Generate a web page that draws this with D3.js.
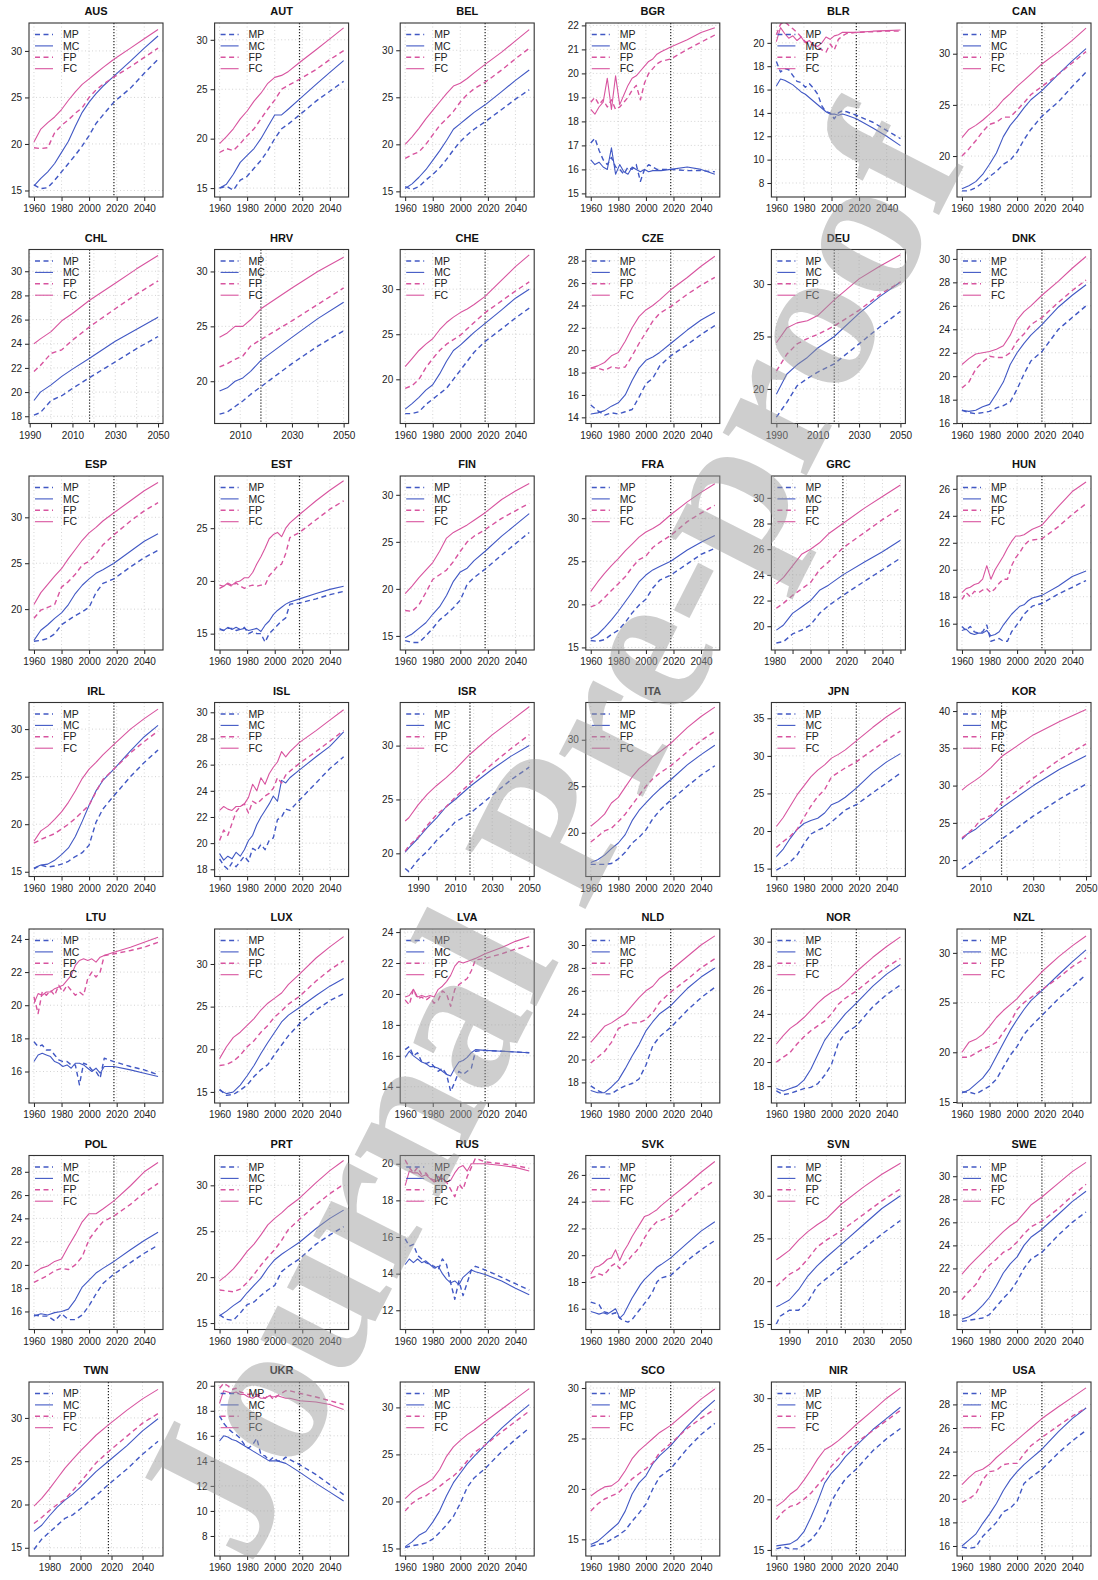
<!DOCTYPE html>
<head>
  <meta charset="utf-8" />
  <script src="https://d3js.org/d3.v7.min.js"></script>
  <style>
    body { margin: 0; background: #fff; }
    svg text { font-family: "Liberation Sans", Arial, sans-serif; }
    .grid { stroke: #cfcfcf; stroke-width: 0.9; stroke-dasharray: 1,2.5; }
  </style>
</head>
<body>
<script>
// panels, in reading order (6 per row)
var COUNTRIES = ["AUS","AUT","BEL","BGR","BLR","CAN",
                 "CHL","HRV","CHE","CZE","DEU","DNK",
                 "ESP","EST","FIN","FRA","GRC","HUN",
                 "IRL","ISL","ISR","ITA","JPN","KOR",
                 "LTU","LUX","LVA","NLD","NOR","NZL",
                 "POL","PRT","RUS","SVK","SVN","SWE",
                 "TWN","UKR","ENW","SCO","NIR","USA"];

// sampling years (values below are read at these years)
var YR5 = [1960,1965,1970,1975,1980,1985,1990,1995,2000,2005,2010,2018,2030,2040,2050];
var YR3 = [1960,1963,1966,1969,1972,1975,1978,1981,1984,1987,1990,1993,1996,1999,2002,2005,2008,2011,2018,2030,2040,2050];
var YR_CHL = [1992,1995,2000,2005,2010,2018,2030,2040,2050];
var YR_HRV = [2002,2005,2008,2011,2014,2018,2030,2040,2050];
var YR_DEU = [1990,1995,2000,2005,2010,2018,2030,2040,2050];
var YR_GRC = [1981,1985,1990,1995,2000,2005,2010,2018,2030,2040,2050];
var YR_83 = [1983,1985,1990,1995,2000,2005,2010,2018,2030,2040,2050];
var YR_KOR = [2003,2005,2008,2010,2014,2018,2030,2040,2050];
var YR_TWN = [1970,1975,1980,1985,1990,1995,2000,2005,2010,2018,2030,2040,2050];

var PANEL_YEARS = [YR5,YR5,YR5,YR3,YR3,YR5,
                   YR_CHL,YR_HRV,YR5,YR5,YR_DEU,YR5,
                   YR5,YR3,YR5,YR5,YR_GRC,YR3,
                   YR5,YR3,YR_83,YR5,YR5,YR_KOR,
                   YR3,YR5,YR3,YR5,YR5,YR5,
                   YR5,YR5,YR3,YR3,YR_83,YR5,
                   YR_TWN,YR3,YR5,YR5,YR5,YR5];

var PANEL_XAXIS = ["std","std","std","std","std","std",
                   "c90","c10","std","std","c90","std",
                   "std","std","std","std","grc","std",
                   "std","std","c90","std","std","c10",
                   "std","std","std","std","std","std",
                   "std","std","std","std","c90","std",
                   "twn","std","std","std","std","std"];

var X_TICKS_STD = [1960,1980,2000,2020,2040];
var X_TICKS_90 = [1990,2000,2010,2020,2030,2040,2050];
var X_LABELS_90 = [1990,2010,2030,2050];
var X_TICKS_10 = [2010,2020,2030,2040,2050];
var X_LABELS_10 = [2010,2030,2050];
var X_TICKS_GRC = [1980,1990,2000,2010,2020,2030,2040,2050];
var X_LABELS_GRC = [1980,2000,2020,2040];
var X_TICKS_TWN = [1980,2000,2020,2040];

// y-axis range and tick step per panel
var Y_LIM = [[14.3,33.0],[14.1,31.7],[14.4,32.9],[14.85,22.1],[6.8,21.7],[16.0,33.0],
             [17.4,31.8],[16.15,32.0],[15.1,34.4],[13.45,29.0],[16.7,33.3],[15.97,30.8],
             [15.55,34.5],[13.45,29.95],[13.5,32.0],[14.7,34.9],[18.15,31.7],[14.05,26.95],
             [14.5,32.8],[17.45,30.75],[17.85,34.0],[15.3,34.0],[13.95,37.1],[17.8,41.15],
             [14.1,24.6],[13.7,34.1],[12.95,24.2],[16.2,31.4],[16.6,31.05],[14.9,32.4],
             [14.45,29.4],[14.3,33.25],[10.95,20.45],[14.45,27.45],[14.35,34.7],[16.7,31.8],
             [14.05,34.15],[6.4,20.3],[14.2,32.7],[13.35,30.6],[14.4,31.6],[15.15,29.9]];
var Y_STEP = [5,5,5,1,2,5,
              2,5,5,2,5,2,
              5,5,5,5,2,2,
              5,2,5,5,5,5,
              2,5,2,2,2,5,
              2,5,2,2,5,2,
              5,2,5,5,5,2];

var MP = [
  [15.6,15.2,15.3,16.1,17.0,17.9,18.8,19.8,20.9,22.2,23.1,24.5,26.0,27.6,29.1],
  [15.0,15.2,14.8,15.8,16.2,17.0,17.8,18.8,20.0,21.0,21.5,22.4,23.8,24.8,25.8],
  [15.5,15.2,15.5,16.2,16.8,17.5,18.4,19.4,20.3,21.0,21.6,22.4,23.7,24.8,25.8],
  [17.1,17.3,16.8,16.4,16.2,16.5,16.1,16.0,15.8,16.1,16.0,16.2,15.5,16.0,16.2,16.1,16.0,16.0,16.0,15.95,15.95,15.9],
  [18.4,17.5,17.8,17.7,17.2,16.7,16.6,16.2,16.5,16.1,15.6,14.6,14.1,14.0,13.5,14.0,14.2,14.1,13.8,13.2,12.5,11.8],
  [16.6,16.6,16.9,17.4,18.0,18.5,19.2,19.6,20.4,21.6,22.6,23.9,25.3,26.8,28.2],
  [18.1,18.3,19.3,19.7,20.3,21.2,22.5,23.6,24.6],
  [17.0,17.2,17.7,18.2,18.8,19.5,21.6,23.2,24.6],
  [16.2,16.2,16.4,17.2,17.8,18.4,19.0,20.0,21.0,22.0,23.0,24.2,25.6,26.8,27.9],
  [15.1,14.6,14.2,14.4,14.3,14.5,14.7,15.8,17.0,17.5,18.6,19.5,20.5,21.4,22.2],
  [17.3,18.7,20.3,21.0,21.6,22.4,24.3,25.9,27.4],
  [17.1,16.9,16.8,16.9,17.0,17.3,17.5,17.8,18.9,20.2,21.3,22.1,24.0,25.0,26.0],
  [16.5,16.6,16.8,17.3,18.3,18.8,19.3,19.7,20.2,21.8,22.8,23.3,24.6,25.6,26.4],
  [15.4,15.3,15.5,15.5,15.3,15.4,15.6,15.0,15.2,15.0,15.0,14.2,15.0,15.4,15.8,16.2,16.5,17.8,17.9,18.3,18.7,19.0],
  [14.5,14.3,14.3,15.0,15.8,16.7,17.3,18.0,18.8,20.5,21.2,22.1,23.6,24.8,26.0],
  [15.8,15.7,15.9,16.5,17.0,17.9,19.0,19.9,20.6,21.9,22.8,23.4,24.7,25.8,26.5],
  [18.7,18.8,19.4,19.7,20.1,21.0,21.6,22.4,23.5,24.4,25.3],
  [15.8,15.5,15.8,15.4,15.3,15.4,15.9,14.7,14.8,14.9,14.7,14.7,15.4,15.8,16.2,16.7,17.0,17.3,17.5,18.2,18.7,19.2],
  [15.3,15.7,15.5,15.6,15.8,16.1,16.6,17.0,17.8,20.2,21.6,23.0,25.0,26.5,27.8],
  [18.8,18.3,18.0,18.5,18.2,18.6,19.0,18.6,19.6,19.4,19.9,19.5,20.2,20.4,21.8,22.0,22.6,22.5,23.3,24.6,25.7,26.6],
  [18.6,18.3,19.4,20.2,21.2,22.0,22.9,23.7,25.4,26.8,28.0],
  [16.6,16.6,16.6,16.7,17.2,17.9,18.9,19.5,20.3,21.5,22.4,23.5,25.0,26.2,27.2],
  [14.8,15.3,15.9,16.8,18.3,19.6,20.1,20.5,21.2,22.0,22.8,23.5,25.1,26.4,27.7],
  [18.8,19.3,20.1,20.6,21.7,22.8,25.9,28.2,30.2],
  [17.8,17.5,17.6,17.3,17.3,17.0,16.7,16.6,16.6,16.4,16.4,15.2,16.5,16.4,16.1,16.0,15.6,16.8,16.6,16.3,16.1,15.8],
  [15.3,14.6,14.7,15.2,15.8,16.8,17.6,18.2,19.4,20.5,21.6,23.0,24.6,25.7,26.5],
  [16.4,16.6,16.0,16.2,15.6,15.5,15.6,15.3,15.0,15.2,14.8,13.7,14.3,15.0,14.8,15.0,15.2,16.3,16.35,16.3,16.25,16.2],
  [17.7,17.3,17.0,17.0,17.4,17.7,17.9,18.3,19.5,21.2,22.0,22.8,24.3,25.4,26.3],
  [17.6,17.3,17.4,17.6,17.8,17.9,18.2,18.9,19.8,21.6,22.4,23.0,24.6,25.6,26.4],
  [16.0,16.0,15.8,16.2,16.6,17.3,18.5,19.7,20.6,21.8,22.6,23.7,25.4,26.6,27.8],
  [15.7,15.6,15.6,15.2,15.8,15.3,15.3,15.7,16.5,17.5,18.4,19.2,20.2,21.0,21.7],
  [15.9,15.4,15.3,16.1,17.0,17.3,18.0,18.6,19.1,20.6,21.2,22.0,23.6,24.6,25.5],
  [15.9,15.5,15.6,15.0,14.8,14.6,14.5,14.4,14.2,14.8,14.5,13.5,12.6,13.6,12.8,13.5,14.2,14.4,14.2,13.8,13.45,13.1],
  [16.5,16.4,16.3,15.8,15.7,15.6,15.7,15.3,15.1,15.0,15.2,15.6,16.0,16.4,16.8,17.3,18.0,18.3,18.5,19.6,20.4,21.1],
  [15.0,15.9,16.6,16.6,17.6,19.4,20.3,21.7,23.8,25.5,27.1],
  [17.4,17.5,17.6,17.7,18.0,18.7,19.4,20.0,20.9,22.0,22.8,23.4,24.9,26.0,26.9],
  [14.8,16.0,16.8,17.6,18.4,18.8,19.5,20.3,21.0,22.3,24.1,25.8,27.3],
  [17.6,17.0,16.6,16.3,16.1,15.8,15.3,15.0,15.3,15.8,14.5,14.4,14.0,14.3,14.0,14.0,14.3,14.1,13.7,12.9,12.1,11.3],
  [15.1,15.3,15.4,15.6,16.0,16.7,17.5,18.4,19.8,21.5,22.5,23.5,25.3,26.6,27.8],
  [14.3,14.5,14.6,15.0,15.4,15.9,16.8,17.6,18.5,20.0,21.2,22.0,24.0,25.4,26.5],
  [15.1,15.3,15.1,15.1,15.5,16.0,16.8,18.0,19.8,21.0,22.0,23.0,24.8,26.0,27.0],
  [15.9,15.8,15.9,16.8,17.4,18.0,18.9,19.2,19.8,21.3,21.8,22.5,23.9,24.9,25.8]
];

var MC = [
  [15.5,16.3,17.0,17.9,19.1,20.3,21.9,23.4,24.5,25.4,26.2,27.3,28.9,30.3,31.6],
  [15.0,15.4,16.4,17.6,18.3,19.0,20.0,21.2,22.4,22.4,23.0,24.0,25.5,26.7,27.9],
  [15.3,15.8,16.5,17.3,18.3,19.3,20.4,21.6,22.2,22.8,23.4,24.2,25.6,26.8,27.9],
  [16.4,16.2,16.3,16.1,16.0,16.9,15.8,16.2,15.9,15.8,16.1,16.0,15.9,16.0,15.9,15.95,15.95,15.95,16.0,16.1,16.0,15.8],
  [16.3,16.9,16.8,16.6,16.4,16.1,15.8,15.6,15.3,15.0,14.7,14.4,14.1,13.9,13.9,13.8,13.9,13.8,13.5,12.7,12.0,11.2],
  [16.8,17.1,17.5,18.2,19.2,20.3,21.9,23.0,23.8,24.7,25.5,26.4,28.0,29.3,30.5],
  [19.3,20.0,20.6,21.3,21.9,22.8,24.2,25.2,26.2],
  [19.1,19.4,20.0,20.3,20.9,21.9,24.0,25.7,27.2],
  [16.7,17.3,18.0,18.8,19.4,20.6,22.0,23.2,23.8,24.5,25.2,26.2,27.7,29.0,30.0],
  [14.3,14.4,14.6,15.0,15.3,16.0,17.3,18.4,19.1,19.4,19.8,20.6,21.8,22.7,23.4],
  [19.5,21.4,22.3,23.0,23.9,25.0,27.2,28.8,30.2],
  [17.1,17.0,17.1,17.4,17.6,18.5,19.5,21.0,22.0,22.8,23.5,24.4,25.9,26.9,27.8],
  [16.6,17.7,18.3,19.0,19.6,20.5,21.7,22.6,23.3,23.9,24.3,25.0,26.3,27.4,28.2],
  [15.5,15.3,15.6,15.4,15.6,15.4,15.5,15.3,15.4,15.5,15.2,15.8,16.2,16.8,17.2,17.5,17.8,18.0,18.3,18.8,19.2,19.5],
  [14.8,15.2,15.8,16.4,17.3,18.1,19.3,20.8,21.8,22.2,23.0,24.0,25.6,26.8,28.0],
  [16.0,16.5,17.3,18.2,19.2,20.3,21.4,22.6,23.4,24.0,24.4,25.0,26.3,27.2,28.0],
  [19.7,20.1,21.0,21.5,22.0,22.8,23.2,24.0,25.0,25.8,26.7],
  [15.5,15.6,15.3,15.2,15.3,15.3,15.5,15.1,15.2,15.4,15.9,16.3,16.7,17.0,17.3,17.4,17.7,17.9,18.1,18.8,19.5,19.9],
  [15.4,15.7,15.8,16.2,16.8,17.5,18.7,20.3,22.0,23.5,24.6,25.8,27.7,29.2,30.4],
  [19.2,18.7,19.0,18.8,19.3,19.0,19.5,20.2,20.6,21.4,22.0,22.5,23.0,23.6,23.2,24.8,24.6,25.0,25.6,26.6,27.4,28.5],
  [20.1,20.5,21.4,22.4,23.3,24.3,25.0,26.2,27.8,29.0,30.0],
  [16.8,17.1,17.6,18.3,18.9,19.8,21.3,22.4,23.2,24.0,24.7,25.7,27.3,28.4,29.4],
  [16.6,17.6,19.0,20.2,21.0,21.4,21.7,22.4,23.5,23.9,24.5,25.7,27.8,29.2,30.3],
  [22.8,23.5,24.1,24.7,25.8,27.0,30.0,32.2,34.0],
  [16.6,17.0,17.1,17.0,16.9,16.6,16.5,16.3,16.4,16.2,16.5,16.5,16.4,16.2,16.0,16.2,15.9,16.3,16.3,16.1,15.9,15.7],
  [15.2,14.8,15.0,15.8,16.9,18.1,19.5,20.8,22.0,23.2,24.0,24.9,26.3,27.4,28.3],
  [15.9,16.3,16.0,15.8,15.6,15.5,15.3,15.3,15.2,15.0,14.8,14.7,15.2,15.6,15.7,15.9,16.2,16.4,16.35,16.3,16.25,16.2],
  [17.3,17.1,17.1,17.6,18.2,19.2,20.3,21.3,22.5,23.3,24.0,24.7,26.2,27.2,28.0],
  [17.8,17.6,17.8,18.0,18.5,19.4,20.6,21.8,22.6,23.3,24.0,24.9,26.3,27.3,28.1],
  [15.9,16.2,16.8,17.4,18.3,19.6,20.9,22.2,23.3,24.3,25.2,26.2,27.8,29.1,30.3],
  [15.6,15.8,15.7,15.9,16.0,16.2,17.0,18.1,18.7,19.3,19.7,20.3,21.3,22.1,22.8],
  [15.8,16.3,16.9,17.4,18.3,19.1,19.9,21.0,21.9,22.5,23.0,23.8,25.3,26.4,27.3],
  [14.5,14.8,14.6,14.8,14.6,14.7,14.5,14.3,14.4,14.0,13.7,13.5,13.6,13.4,13.8,14.0,14.2,14.1,13.95,13.6,13.2,12.85],
  [15.8,15.7,15.6,15.7,15.6,15.8,16.0,15.3,15.6,16.2,16.8,17.3,17.8,18.2,18.5,18.8,19.1,19.3,19.8,20.9,21.8,22.5],
  [17.0,17.2,17.8,19.0,20.6,21.8,22.8,24.3,26.6,28.5,30.0],
  [17.6,17.8,18.2,18.8,19.5,20.5,21.6,22.4,23.0,24.0,24.7,25.4,26.7,27.8,28.7],
  [16.9,17.6,18.7,19.7,20.5,21.2,22.0,22.9,23.8,25.0,26.8,28.5,29.9],
  [15.6,16.0,15.9,15.7,15.6,15.4,15.2,15.0,14.8,14.6,14.4,14.2,14.0,14.0,14.0,13.9,13.8,13.6,13.1,12.2,11.5,10.8],
  [15.2,15.7,16.4,16.8,17.8,19.0,20.6,22.0,23.0,24.0,24.8,26.0,27.8,29.1,30.3],
  [14.5,14.8,15.4,16.0,16.6,17.8,19.5,20.6,21.3,22.5,23.3,24.3,26.2,27.6,28.8],
  [15.4,15.5,15.6,16.0,16.8,18.2,19.8,21.6,22.6,23.3,24.2,25.3,26.9,28.0,29.1],
  [16.0,16.5,17.0,17.9,18.7,19.6,20.7,21.6,22.3,22.9,23.4,24.2,25.7,26.8,27.7]
];

var FP = [
  [19.6,19.5,19.6,21.2,22.0,22.6,23.3,23.9,25.0,25.8,26.4,27.2,28.3,29.3,30.3],
  [18.6,19.0,18.8,19.5,20.3,21.0,22.0,23.0,23.9,25.0,25.4,26.0,27.0,28.0,28.9],
  [18.5,18.9,19.2,20.0,21.0,22.0,22.7,23.5,24.5,25.3,25.9,26.6,27.9,29.1,30.2],
  [18.8,19.0,18.7,18.9,18.6,18.9,18.5,18.6,18.8,19.0,19.3,19.5,18.9,19.6,20.0,20.2,20.4,20.5,20.6,21.0,21.3,21.6],
  [20.7,21.6,21.8,21.5,21.2,20.9,20.5,20.1,19.9,19.8,19.6,19.4,19.2,19.9,19.4,20.3,20.6,20.8,20.9,20.95,21.0,21.0],
  [20.0,20.7,21.5,22.4,23.1,23.3,23.8,23.8,24.5,25.2,26.0,26.8,28.0,29.1,30.2],
  [21.7,22.2,23.2,23.5,24.3,25.4,26.9,28.1,29.2],
  [21.3,21.6,22.0,22.3,23.2,23.8,25.5,27.0,28.5],
  [19.0,19.3,20.0,21.3,22.3,23.2,23.9,24.4,24.9,25.6,26.3,27.4,28.7,29.8,30.8],
  [18.4,18.4,18.2,18.5,18.4,18.5,19.5,20.6,21.6,22.6,23.3,23.9,25.0,25.8,26.5],
  [21.7,23.3,24.3,24.8,25.2,26.0,27.5,29.0,30.2],
  [19.0,19.5,20.6,21.2,21.7,21.6,21.6,22.0,23.0,23.6,24.4,25.0,26.3,27.3,28.2],
  [19.0,19.9,20.2,20.5,22.4,23.0,23.8,24.8,25.2,26.0,27.0,28.1,29.6,30.7,31.6],
  [19.3,19.5,19.7,19.5,19.8,19.5,19.3,19.5,19.6,19.5,19.6,19.6,20.5,20.9,21.4,21.6,22.6,24.1,24.6,25.8,26.8,27.6],
  [17.7,17.6,18.3,19.6,21.0,21.5,22.0,22.9,24.0,25.0,25.6,26.3,27.5,28.3,29.1],
  [19.7,20.0,20.8,21.6,22.4,23.2,24.3,25.2,25.6,26.6,27.2,28.0,29.6,30.6,31.5],
  [21.4,21.8,22.4,22.9,23.4,24.4,25.0,26.1,27.3,28.3,29.2],
  [17.8,18.3,18.0,18.4,18.3,18.5,18.6,18.3,18.6,19.0,19.3,19.3,20.3,20.9,21.3,21.8,22.1,22.2,22.3,23.2,24.1,24.9],
  [18.0,18.4,18.7,19.0,19.5,20.0,20.6,21.3,22.0,23.4,24.7,25.8,27.5,28.7,29.8],
  [20.2,21.0,20.6,21.5,22.4,22.8,23.0,22.3,23.2,23.0,23.3,23.6,23.8,24.2,25.0,24.6,25.2,25.5,26.1,27.0,27.8,28.6],
  [20.2,20.7,21.5,22.6,23.6,24.3,25.2,26.5,28.3,29.7,31.0],
  [19.0,19.6,20.2,20.5,21.2,22.0,23.0,24.0,25.0,25.8,26.4,27.2,28.7,29.9,30.9],
  [17.8,18.6,19.3,20.2,21.8,23.3,24.6,25.5,27.2,27.8,28.4,29.2,30.8,32.1,33.3],
  [23.0,23.5,24.5,25.4,26.0,27.7,31.0,33.5,35.6],
  [20.5,19.5,20.8,20.6,20.9,20.6,21.2,20.8,21.2,20.9,20.6,20.8,20.6,21.6,22.0,21.7,22.0,23.0,23.1,23.3,23.5,23.8],
  [18.1,18.2,18.6,19.3,20.3,21.0,22.0,22.8,23.8,24.5,25.3,26.2,28.0,29.3,30.4],
  [19.6,19.3,20.3,19.7,19.8,19.6,19.8,19.4,19.6,20.2,20.0,19.2,20.3,20.6,20.8,21.0,21.5,22.2,22.3,22.6,22.9,23.1],
  [19.7,20.2,20.7,21.5,22.7,23.0,23.2,23.2,23.5,24.1,25.0,25.9,27.0,28.0,28.8],
  [20.0,20.4,20.8,21.5,22.1,22.6,23.0,23.4,24.0,24.8,25.3,25.9,27.0,27.9,28.6],
  [19.5,19.5,19.9,20.3,20.6,21.0,22.0,23.0,24.3,25.0,25.5,26.3,27.5,28.6,29.5],
  [18.5,18.8,19.1,19.5,19.7,19.6,20.0,20.7,22.2,23.0,23.7,24.2,25.2,26.2,27.0],
  [18.6,18.5,18.4,18.7,19.4,20.3,21.3,22.2,23.0,24.0,25.2,26.3,27.9,29.1,30.1],
  [20.2,19.8,19.5,19.8,19.4,19.5,19.2,19.1,19.3,19.1,19.0,18.6,18.2,18.9,18.6,19.3,19.8,20.3,20.1,20.0,19.9,19.75],
  [18.3,18.4,18.6,18.5,18.8,19.2,19.4,19.0,19.3,19.6,20.0,20.3,20.7,21.3,21.8,22.2,22.5,22.6,22.9,24.0,24.9,25.6],
  [19.4,19.8,20.8,21.4,22.6,24.0,24.8,25.9,27.8,29.4,30.8],
  [19.3,20.0,20.6,21.6,22.3,22.8,23.4,23.7,24.3,25.0,25.6,26.1,27.2,28.3,29.3],
  [17.8,18.5,19.3,20.0,20.6,21.6,22.6,23.7,24.8,26.1,27.9,29.4,30.5],
  [19.8,20.2,20.0,19.7,19.8,19.5,19.4,19.3,19.4,19.3,19.2,19.0,19.3,18.9,19.2,19.4,19.6,19.6,19.4,19.1,18.8,18.5],
  [19.0,19.8,20.3,20.6,21.1,21.6,22.2,22.7,23.4,24.3,25.2,26.0,27.4,28.5,29.6],
  [17.8,18.5,19.0,19.3,19.6,20.3,21.0,21.5,22.0,22.6,23.6,24.5,26.0,27.0,27.9],
  [18.0,18.8,19.3,19.5,20.0,20.6,21.4,22.2,23.3,24.0,24.8,25.6,26.8,27.8,28.8],
  [19.7,20.0,20.4,21.6,22.3,22.4,22.9,23.0,23.0,23.8,24.5,25.2,26.2,27.0,27.7]
];

var FC = [
  [20.2,21.6,22.3,22.9,23.7,24.7,25.6,26.4,27.0,27.6,28.2,29.1,30.3,31.3,32.3],
  [19.5,20.2,21.0,22.0,22.8,23.8,24.6,25.6,26.2,26.4,26.8,27.7,29.0,30.1,31.2],
  [20.0,20.8,21.7,22.7,23.6,24.5,25.4,26.2,26.5,27.0,27.6,28.5,29.8,31.0,32.2],
  [18.5,18.3,18.6,18.8,19.8,18.5,19.9,18.7,19.1,19.5,19.8,19.9,20.1,20.3,20.5,20.6,20.8,20.9,21.1,21.4,21.7,21.9],
  [20.1,21.3,20.8,20.4,20.6,20.2,20.5,20.0,20.2,19.8,19.7,20.0,20.5,20.3,20.6,20.7,20.9,20.9,20.9,21.0,21.05,21.1],
  [21.8,22.6,23.0,23.5,24.1,24.7,25.5,26.1,26.8,27.4,28.0,29.0,30.2,31.3,32.5],
  [24.0,24.4,25.0,25.9,26.5,27.6,29.0,30.2,31.3],
  [24.0,24.4,25.0,25.0,25.6,26.6,28.5,30.0,31.3],
  [21.4,22.3,23.2,23.9,24.5,25.5,26.3,26.9,27.4,27.8,28.3,29.2,31.0,32.5,33.8],
  [18.4,18.6,18.9,19.5,19.8,20.8,22.0,23.0,23.6,24.0,24.5,25.4,26.5,27.5,28.4],
  [24.4,25.8,26.3,26.5,27.0,28.5,30.5,31.7,32.8],
  [21.0,21.5,21.9,22.0,22.1,22.3,22.6,23.5,24.8,25.5,26.0,26.9,28.1,29.2,30.2],
  [20.5,21.8,22.7,23.6,24.4,25.5,26.5,27.5,28.3,28.9,29.6,30.5,31.8,32.9,33.8],
  [19.6,19.5,19.8,19.6,19.9,20.0,20.3,20.3,20.8,21.6,22.3,23.1,24.0,24.4,24.6,24.2,25.0,25.5,26.3,27.6,28.6,29.5],
  [19.5,20.3,21.2,22.0,22.8,24.0,25.4,26.0,26.4,26.8,27.3,28.1,29.5,30.4,31.2],
  [21.5,22.6,23.6,24.5,25.3,26.2,27.0,27.8,28.4,28.8,29.3,30.4,31.9,33.0,34.0],
  [23.3,23.8,24.7,25.6,26.0,26.5,27.2,28.0,29.2,30.1,31.0],
  [18.3,18.6,18.7,18.9,19.0,19.3,20.3,19.3,20.0,20.5,21.0,21.6,22.1,22.5,22.5,22.6,22.8,23.0,23.3,24.7,25.8,26.5],
  [18.2,19.3,19.8,20.5,21.3,22.3,23.5,24.8,25.8,26.5,27.3,28.4,30.0,31.1,32.1],
  [22.5,22.8,22.6,22.5,22.8,22.8,23.0,23.5,24.5,24.0,25.0,24.5,25.3,25.8,26.2,27.0,26.6,27.0,27.7,28.6,29.4,30.2],
  [23.0,23.3,24.5,25.5,26.3,27.0,27.8,29.2,31.0,32.3,33.6],
  [20.7,21.3,22.0,23.2,23.8,24.9,26.0,26.9,27.5,28.2,28.7,29.6,31.3,32.5,33.5],
  [20.6,21.8,23.3,24.8,26.0,27.2,28.1,28.8,29.7,30.2,30.8,32.0,33.8,35.2,36.4],
  [29.4,30.0,30.7,31.2,32.4,33.9,36.8,38.6,40.2],
  [20.1,20.7,20.6,20.8,20.8,21.0,21.1,21.2,21.5,21.8,22.4,22.7,22.8,22.7,22.8,22.6,22.9,23.0,23.2,23.5,23.8,24.1],
  [18.9,20.3,21.4,22.0,22.8,23.6,24.6,25.4,26.0,26.6,27.6,28.8,30.7,32.0,33.2],
  [19.8,19.9,20.3,19.8,19.9,19.8,19.9,19.8,20.3,20.5,20.8,21.2,21.8,22.1,22.0,22.1,22.2,22.3,22.6,23.0,23.4,23.7],
  [21.5,22.2,22.9,23.2,23.6,24.0,24.7,25.4,26.0,26.4,27.1,27.8,29.0,30.0,30.8],
  [21.5,22.2,22.8,23.2,23.7,24.3,24.9,25.4,25.8,26.1,26.6,27.5,28.7,29.6,30.4],
  [20.0,21.0,21.3,21.8,22.6,23.5,24.2,24.8,25.4,26.2,26.9,28.1,29.6,30.7,31.7],
  [19.3,19.7,19.9,20.3,20.5,21.6,22.6,23.7,24.4,24.4,24.8,25.5,26.8,28.0,28.8],
  [19.6,20.2,20.9,21.8,22.8,23.6,24.6,25.7,26.4,27.0,27.7,28.6,30.3,31.6,32.7],
  [18.8,19.6,19.5,19.5,19.3,19.4,19.2,19.0,19.1,19.2,19.0,19.1,19.5,19.8,19.9,19.6,20.0,20.0,20.0,19.9,19.8,19.6],
  [18.6,19.1,19.2,19.4,19.7,19.8,20.4,19.6,20.3,20.8,21.4,21.9,22.4,22.9,23.0,23.2,23.4,23.7,24.3,25.3,26.2,27.0],
  [22.5,22.8,23.6,24.8,25.8,26.6,27.3,29.0,31.0,32.5,33.8],
  [21.5,22.2,22.8,23.4,24.0,24.6,25.2,25.7,26.1,26.8,27.5,28.2,29.4,30.4,31.2],
  [19.8,20.7,21.8,23.0,24.2,25.2,26.2,27.1,28.0,29.2,30.9,32.2,33.3],
  [18.6,19.6,19.5,19.4,19.5,19.3,19.3,19.1,19.0,19.2,19.0,19.0,19.2,19.1,19.2,19.1,19.0,19.0,18.8,18.7,18.5,18.1],
  [20.3,21.0,21.5,21.9,22.4,23.4,24.8,25.8,26.5,27.1,27.6,28.5,29.8,30.9,32.0],
  [19.3,19.8,20.2,20.3,20.8,21.8,23.0,23.8,24.4,25.0,25.6,26.3,27.7,28.9,29.9],
  [19.3,19.8,20.5,21.0,21.9,22.9,24.0,24.9,25.3,25.8,26.4,27.4,28.8,30.0,31.0],
  [21.2,21.8,22.3,22.5,22.9,23.5,24.0,24.5,25.0,25.5,26.0,26.8,27.8,28.6,29.4]
];

var BLUE = "#4158c4", PINK = "#d8549f";
var SERIES = [
  { key: "MP", values: MP, color: BLUE, dash: "5,3.5", lw: 1.4 },
  { key: "MC", values: MC, color: BLUE, dash: null, lw: 1.1 },
  { key: "FP", values: FP, color: PINK, dash: "5,3.5", lw: 1.4 },
  { key: "FC", values: FC, color: PINK, dash: null, lw: 1.1 }
];

var X_AXES = {
  std: { ticks: X_TICKS_STD, labels: X_TICKS_STD },
  c90: { ticks: X_TICKS_90, labels: X_LABELS_90 },
  c10: { ticks: X_TICKS_10, labels: X_LABELS_10 },
  grc: { ticks: X_TICKS_GRC, labels: X_LABELS_GRC },
  twn: { ticks: X_TICKS_TWN, labels: X_TICKS_TWN }
};

var width = 1098, height = 1580;
var colPitch = 185.6, rowPitch = 226.5, boxW = 134, boxH = 174;

var svg = d3.select("body").append("svg")
  .attr("width", width)
  .attr("height", height)
  .style("background", "#fff");

COUNTRIES.forEach(function (name, i) {
  var col = i % 6, row = Math.floor(i / 6);
  var left = 29 + col * colPitch, top = 23 + row * rowPitch;
  var yrs = PANEL_YEARS[i];
  var first = yrs[0], last = yrs[yrs.length - 1], pad = (last - first) * 0.04;

  var x = d3.scaleLinear().domain([first - pad, last + pad]).range([0, boxW]);
  var y = d3.scaleLinear().domain(Y_LIM[i]).range([boxH, 0]);
  var ax = X_AXES[PANEL_XAXIS[i]];
  var step = Y_STEP[i];
  var yTicks = d3.range(Math.ceil(Y_LIM[i][0] / step - 1e-9) * step, Y_LIM[i][1] + 1e-9, step);

  var g = svg.append("g").attr("transform", "translate(" + left + "," + top + ")");

  // dotted grid like R's grid()
  g.append("g").selectAll("line").data(ax.ticks).join("line")
    .attr("class", "grid")
    .attr("x1", d => x(d)).attr("x2", d => x(d))
    .attr("y1", 0).attr("y2", boxH);
  g.append("g").selectAll("line").data(yTicks).join("line")
    .attr("class", "grid")
    .attr("x1", 0).attr("x2", boxW)
    .attr("y1", d => y(d)).attr("y2", d => y(d));

  // jump-off year
  g.append("line")
    .attr("x1", x(2018)).attr("x2", x(2018))
    .attr("y1", 0).attr("y2", boxH)
    .attr("stroke", "#222").attr("stroke-width", 1.2)
    .attr("stroke-dasharray", "1.3,1.7");

  g.append("clipPath").attr("id", "clip" + i)
    .append("rect").attr("width", boxW).attr("height", boxH);

  var line = d3.line()
    .x((d, k) => x(yrs[k]))
    .y(d => y(d));

  var lines = g.append("g").attr("clip-path", "url(#clip" + i + ")");
  SERIES.forEach(function (s) {
    lines.append("path")
      .attr("d", line(s.values[i]))
      .attr("fill", "none")
      .attr("stroke", s.color)
      .attr("stroke-width", s.lw)
      .attr("stroke-dasharray", s.dash)
      .attr("stroke-linejoin", "round");
  });

  // legend (no frame)
  SERIES.forEach(function (s, k) {
    var ly = 11.5 + k * 11.4;
    g.append("line")
      .attr("x1", 6).attr("x2", 24).attr("y1", ly).attr("y2", ly)
      .attr("stroke", s.color).attr("stroke-width", s.lw)
      .attr("stroke-dasharray", s.dash);
    g.append("text")
      .attr("x", 34).attr("y", ly).attr("dy", "0.35em")
      .attr("font-size", 10.5).attr("fill", "#222")
      .text(s.key);
  });

  var xAxis = g.append("g")
    .attr("transform", "translate(0," + boxH + ")")
    .call(d3.axisBottom(x).tickValues(ax.ticks).tickSize(4).tickPadding(4)
      .tickFormat(d => ax.labels.indexOf(d) >= 0 ? d : ""));
  var yAxis = g.append("g")
    .call(d3.axisLeft(y).tickValues(yTicks).tickSize(4).tickPadding(3)
      .tickFormat(d3.format("d")));
  [xAxis, yAxis].forEach(function (a) {
    a.select(".domain").remove();
    a.attr("font-family", "'Liberation Sans', Arial, sans-serif")
      .attr("font-size", 10).style("color", "#222");
  });

  g.append("rect")
    .attr("width", boxW).attr("height", boxH)
    .attr("fill", "none").attr("stroke", "#333").attr("stroke-width", 1.1);

  g.append("text")
    .attr("x", boxW / 2).attr("y", -8)
    .attr("text-anchor", "middle")
    .attr("font-size", 11).attr("font-weight", "bold").attr("fill", "#111")
    .text(name);
});

// watermark, drawn over the panels
svg.append("text")
  .attr("transform", "translate(195,1540) rotate(-63)")
  .attr("text-anchor", "start")
  .attr("dy", "0.3em")
  .style("font-family", "'Liberation Serif', 'DejaVu Serif', serif")
  .style("font-weight", "bold")
  .style("font-size", "205px")
  .attr("fill", "#999")
  .attr("fill-opacity", 0.48)
  .text("Journal Pre-proof");
</script>
</body>
